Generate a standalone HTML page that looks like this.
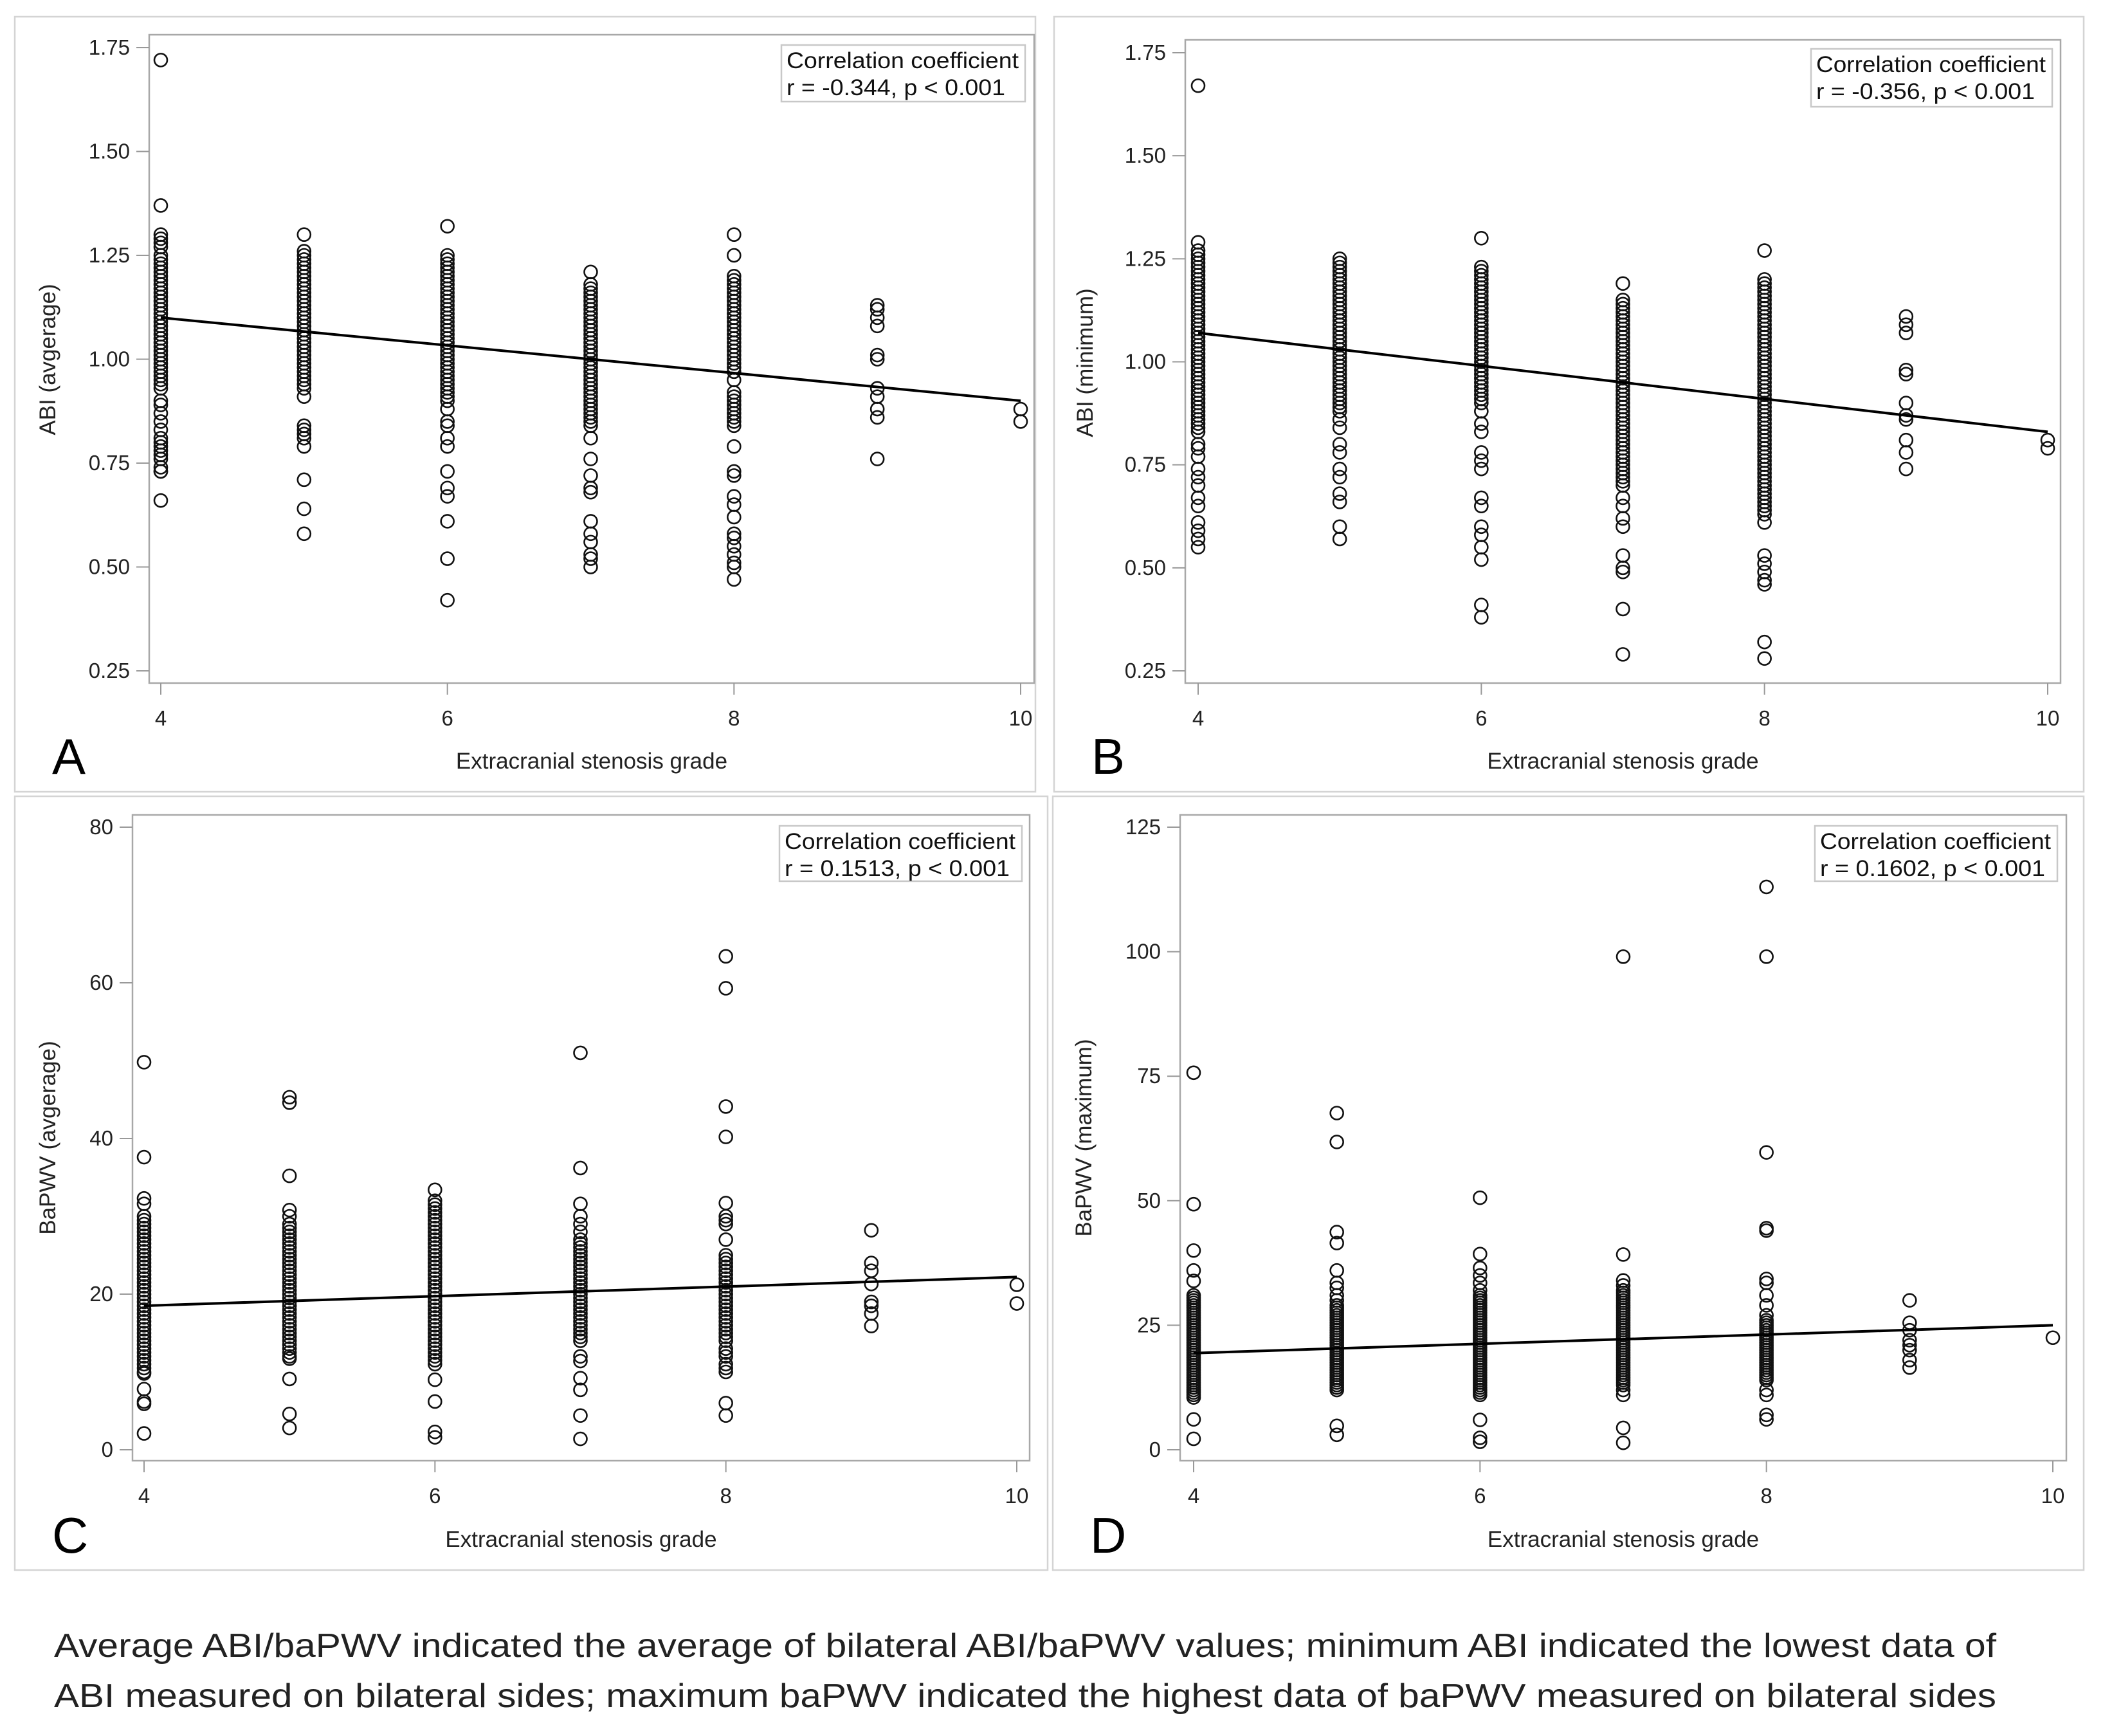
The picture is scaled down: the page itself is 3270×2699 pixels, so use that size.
<!DOCTYPE html>
<html><head><meta charset="utf-8">
<style>
html,body{margin:0;padding:0;background:#fff;}
svg{display:block;}
.tick{font-family:"Liberation Sans Narrow","Liberation Sans",sans-serif;font-size:33px;fill:#222;}
.ttl{font-family:"Liberation Sans",sans-serif;font-size:35px;fill:#222;}
.leg{font-family:"Liberation Sans",sans-serif;font-size:35px;fill:#111;}
.letter{font-family:"Liberation Sans",sans-serif;font-size:78px;fill:#000;}
.cap{font-family:"Liberation Sans",sans-serif;font-size:52px;fill:#222;}
</style></head>
<body>
<svg id="fig" width="3270" height="2699" viewBox="0 0 3270 2699" xmlns="http://www.w3.org/2000/svg">
<rect width="3270" height="2699" fill="#fff"/>
<text class="cap" x="84" y="2576" textLength="3020" lengthAdjust="spacingAndGlyphs">Average ABI/baPWV indicated the average of bilateral ABI/baPWV values; minimum ABI indicated the lowest data of</text>
<text class="cap" x="84" y="2654" textLength="3020" lengthAdjust="spacingAndGlyphs">ABI measured on bilateral sides; maximum baPWV indicated the highest data of baPWV measured on bilateral sides</text>
</svg>
<script>
// x categories (stenosis grade)
const grades = [4,5,6,7,8,9,10];
const xTicks = [4,6,8,10];
// Panel A: ABI (average), values per grade
const abiAvg4 = [1.72,1.37,1.30,1.29,1.28,1.27,1.25,1.24,1.22,1.20,1.18,1.16,1.14,1.12,1.10,1.08,1.06,1.04,1.02,1.00,0.98,0.96,0.94,0.93,0.90,0.89,0.87,0.85,0.83,0.81,0.80,0.79,0.78,0.77,0.76,0.74,0.73,0.73,0.66];
const abiAvg4b = [1.23,1.21,1.19,1.17,1.15,1.13,1.11,1.09,1.07,1.05,1.03,1.01,0.99,0.97,0.95];
const abiAvg5 = [1.30,1.26,1.25,1.23,1.21,1.19,1.17,1.15,1.13,1.11,1.09,1.07,1.05,1.03,1.01,0.99,0.97,0.95,0.93,0.91,0.84,0.83,0.82,0.81,0.79,0.71,0.64,0.58];
const abiAvg5b = [1.24,1.22,1.20,1.18,1.16,1.14,1.12,1.10,1.08,1.06,1.04,1.02,1.00,0.98,0.96,0.94];
const abiAvg6 = [1.32,1.25,1.24,1.22,1.20,1.18,1.16,1.14,1.12,1.10,1.08,1.06,1.04,1.02,1.00,0.98,0.96,0.94,0.92,0.90,0.88,0.85,0.84,0.81,0.79,0.73,0.69,0.67,0.61,0.52,0.42];
const abiAvg6b = [1.23,1.21,1.19,1.17,1.15,1.13,1.11,1.09,1.07,1.05,1.03,1.01,0.99,0.97,0.95,0.93,0.91];
const abiAvg7 = [1.21,1.18,1.16,1.14,1.12,1.10,1.08,1.06,1.04,1.02,1.00,0.98,0.96,0.94,0.92,0.90,0.88,0.86,0.84,0.81,0.76,0.72,0.69,0.68,0.61,0.58,0.56,0.53,0.52,0.50];
const abiAvg7b = [1.17,1.15,1.13,1.11,1.09,1.07,1.05,1.03,1.01,0.99,0.97,0.95,0.93,0.91,0.89,0.87,0.85];
const abiAvg8 = [1.30,1.25,1.20,1.19,1.17,1.15,1.13,1.11,1.09,1.07,1.05,1.03,1.01,0.99,0.97,0.95,0.92,0.90,0.88,0.86,0.84,0.79,0.73,0.72,0.67,0.65,0.62,0.58,0.57,0.55,0.53,0.51,0.50,0.47];
const abiAvg8b = [1.18,1.16,1.14,1.12,1.10,1.08,1.06,1.04,1.02,1.00,0.98,0.91,0.89,0.87,0.85];
const abiAvg9 = [1.13,1.12,1.10,1.08,1.01,1.00,0.93,0.91,0.88,0.86,0.76];
const abiAvg10 = [0.88,0.85];
const abiAvgFit = [1.10,0.90];
const abiTicks = [0.25,0.50,0.75,1.00,1.25,1.50,1.75];
// Panel B: ABI (minimum)
const abiMin4 = [1.67,1.29,1.27,1.26,1.25,1.24,1.22,1.20,1.18,1.16,1.14,1.12,1.10,1.08,1.06,1.04,1.02,1.00,0.98,0.96,0.94,0.92,0.90,0.88,0.86,0.84,0.83,0.80,0.79,0.77,0.74,0.72,0.70,0.67,0.65,0.61,0.59,0.57,0.55];
const abiMin4b = [1.23,1.21,1.19,1.17,1.15,1.13,1.11,1.09,1.07,1.05,1.03,1.01,0.99,0.97,0.95,0.93,0.91,0.89,0.87,0.85];
const abiMin5 = [1.25,1.23,1.21,1.19,1.17,1.15,1.13,1.11,1.09,1.07,1.05,1.03,1.01,0.99,0.97,0.95,0.93,0.91,0.89,0.88,0.86,0.84,0.80,0.78,0.74,0.72,0.68,0.66,0.60,0.57];
const abiMin5b = [1.24,1.22,1.20,1.18,1.16,1.14,1.12,1.10,1.08,1.06,1.04,1.02,1.00,0.98,0.96,0.94,0.92,0.90];
const abiMin6 = [1.30,1.23,1.21,1.19,1.17,1.15,1.13,1.11,1.09,1.07,1.05,1.03,1.01,0.99,0.97,0.95,0.93,0.91,0.90,0.88,0.85,0.83,0.78,0.76,0.74,0.67,0.65,0.60,0.58,0.55,0.52,0.41,0.38];
const abiMin6b = [1.22,1.20,1.18,1.16,1.14,1.12,1.10,1.08,1.06,1.04,1.02,1.00,0.98,0.96,0.94,0.92];
const abiMin7 = [1.19,1.15,1.13,1.11,1.09,1.07,1.05,1.03,1.01,0.99,0.97,0.95,0.93,0.91,0.89,0.87,0.85,0.83,0.81,0.79,0.77,0.75,0.73,0.71,0.70,0.67,0.65,0.62,0.60,0.53,0.50,0.49,0.40,0.29];
const abiMin7b = [1.14,1.12,1.10,1.08,1.06,1.04,1.02,1.00,0.98,0.96,0.94,0.92,0.90,0.88,0.86,0.84,0.82,0.80,0.78,0.76,0.74,0.72];
const abiMin8 = [1.27,1.20,1.18,1.16,1.14,1.12,1.10,1.08,1.06,1.04,1.02,1.00,0.98,0.96,0.94,0.92,0.90,0.88,0.86,0.84,0.82,0.80,0.78,0.76,0.74,0.72,0.70,0.68,0.66,0.64,0.61,0.53,0.51,0.49,0.47,0.46,0.32,0.28];
const abiMin8b = [1.19,1.17,1.15,1.13,1.11,1.09,1.07,1.05,1.03,1.01,0.99,0.97,0.95,0.93,0.91,0.89,0.87,0.85,0.83,0.81,0.79,0.77,0.75,0.73,0.71,0.69,0.67,0.65,0.63];
const abiMin9 = [1.11,1.09,1.07,0.98,0.97,0.90,0.87,0.86,0.81,0.78,0.74];
const abiMin10 = [0.81,0.79];
const abiMinFit = [1.07,0.83];
// Panel C: baPWV (average)
const pwvAvg4 = [49.8,37.6,32.3,31.6,30,29,28,27,26,25,24,23,22,21,20,19,18,17,16,15,14,13,12,11,10,9.8,7.8,6.2,5.9,2.1];
const pwvAvg4b = [29.5,28.5,27.5,26.5,25.5,24.5,23.5,22.5,21.5,20.5,19.5,18.5,17.5,16.5,15.5,14.5,13.5,12.5,11.5,10.5];
const pwvAvg5 = [45.3,44.6,35.2,30.8,30,29,28,27,26,25,24,23,22,21,20,19,18,17,16,15,14,13,12,11.7,9.1,4.6,2.8];
const pwvAvg5b = [28.5,27.5,26.5,25.5,24.5,23.5,22.5,21.5,20.5,19.5,18.5,17.5,16.5,15.5,14.5,13.5,12.5];
const pwvAvg6 = [33.4,32,31,30,29,28,27,26,25,24,23,22,21,20,19,18,17,16,15,14,13,12,11,9.0,6.2,2.3,1.6];
const pwvAvg6b = [31.5,30.5,29.5,28.5,27.5,26.5,25.5,24.5,23.5,22.5,21.5,20.5,19.5,18.5,17.5,16.5,15.5,14.5,13.5,12.5,11.5];
const pwvAvg7 = [51,36.2,31.6,30,29,28,27,26,25,24,23,22,21,20,19,18,17,16,15,14,12,11.4,9.2,7.7,4.4,1.4];
const pwvAvg7b = [26.5,25.5,24.5,23.5,22.5,21.5,20.5,19.5,18.5,17.5,16.5,15.5,14.5];
const pwvAvg8 = [63.4,59.3,44.1,40.2,31.7,30,29.5,29,27,25,24,23,22,21,20,19,18,17,16,15,14,13,12,11,10,6,4.4];
const pwvAvg8b = [24.5,23.5,22.5,21.5,20.5,19.5,18.5,17.5,16.5,15.5,14.5,12.5,10.5];
const pwvAvg9 = [28.2,24,23,21.3,19,18.5,17.5,15.9];
const pwvAvg10 = [21.2,18.8];
const pwvAvgFit = [18.5,22.2];
const pwvAvgTicks = [0,20,40,60,80];
// Panel D: baPWV (maximum)
const pwvMax4 = [75.7,49.3,40,36,33.9,31,30,29,28,27,26,25,24,23,22,21,20,19,18,17,16,15,14,13,12,11,10.5,6.1,2.2];
const pwvMax4b = [30.5,29.5,28.5,27.5,26.5,25.5,24.5,23.5,22.5,21.5,20.5,19.5,18.5,17.5,16.5,15.5,14.5,13.5,12.5,11.5];
const pwvMax5 = [67.6,61.8,43.7,41.5,36,33.5,32.5,31,30,29,28,27,26,25,24,23,22,21,20,19,18,17,16,15,14,13,12,4.8,3.0];
const pwvMax5b = [28.5,27.5,26.5,25.5,24.5,23.5,22.5,21.5,20.5,19.5,18.5,17.5,16.5,15.5,14.5,13.5,12.5];
const pwvMax6 = [50.6,39.3,36.5,35,33.5,32,31,30,29,28,27,26,25,24,23,22,21,20,19,18,17,16,15,14,13,12,11,6,2.4,1.6];
const pwvMax6b = [30.5,29.5,28.5,27.5,26.5,25.5,24.5,23.5,22.5,21.5,20.5,19.5,18.5,17.5,16.5,15.5,14.5,13.5,12.5,11.5];
const pwvMax7 = [99,39.2,34,33,32,31,30,29,28,27,26,25,24,23,22,21,20,19,18,17,16,15,14,13,12,11,4.4,1.4];
const pwvMax7b = [31.5,30.5,29.5,28.5,27.5,26.5,25.5,24.5,23.5,22.5,21.5,20.5,19.5,18.5,17.5,16.5,15.5,14.5,13.5];
const pwvMax8 = [113,99,59.7,44.5,44,34.3,33.5,31,29,27,26,25,24,23,22,21,20,19,18,17,16,15,14,12,11,7,6.1];
const pwvMax8b = [25.5,24.5,23.5,22.5,21.5,20.5,19.5,18.5,17.5,16.5,15.5,14.5];
const pwvMax9 = [30,25.5,24,22,21,20,18,16.5];
const pwvMax10 = [22.5];
const pwvMaxFit = [19.4,25.0];
const pwvMaxTicks = [0,25,50,75,100,125];

const NS = "http://www.w3.org/2000/svg";
const svg = document.getElementById('fig');
function mk(tag, attrs, parent){
  const e = document.createElementNS(NS, tag);
  for (const k in attrs) e.setAttribute(k, attrs[k]);
  (parent||svg).appendChild(e);
  return e;
}
function panel(cfg){
  const g = mk('g', {});
  
  
  const fr = mk('rect', {x:cfg.fx0, y:cfg.fy0, width:cfg.fx1-cfg.fx0, height:cfg.fy1-cfg.fy0, fill:'none', stroke:'#d4d4d4', 'stroke-width':2.5}, g);
  
  
  const xs = v => cfg.x4 + (v - 4) * (cfg.x10 - cfg.x4) / 6;
  const ys = v => cfg.yb + (v - cfg.vmin) * (cfg.yt - cfg.yb) / (cfg.vmax - cfg.vmin);
  const pa = mk('rect', {x:cfg.px0, y:cfg.py0, width:cfg.px1-cfg.px0, height:cfg.py1-cfg.py0, fill:'none', stroke:'#a8a8a8', 'stroke-width':2.5}, g);
  
  
  cfg.yticks.forEach(v => {
    const y = ys(v);
    const t = mk('line', {x1:cfg.px0-20, x2:cfg.px0, y1:y, y2:y, stroke:'#999', 'stroke-width':2}, g);
    
    
    const l = mk('text', {x:cfg.px0-30, y:y+11, 'text-anchor':'end', class:'tick'}, g);
    
    
    l.textContent = cfg.fmt(v);
  });
  xTicks.forEach(v => {
    const x = xs(v);
    const t = mk('line', {x1:x, x2:x, y1:cfg.py1, y2:cfg.py1+18, stroke:'#999', 'stroke-width':2}, g);
    
    
    const l = mk('text', {x:x, y:cfg.xly, 'text-anchor':'middle', class:'tick'}, g);
    
    
    l.textContent = v;
  });
  const xt = mk('text', {x:(cfg.px0+cfg.px1)/2, y:cfg.xty, 'text-anchor':'middle', class:'ttl'}, g);
  
  
  xt.textContent = 'Extracranial stenosis grade';
  const yt = mk('text', {x:0, y:0, 'text-anchor':'middle', class:'ttl', transform:'translate(' + cfg.ytx + ',' + cfg.yty + ') rotate(-90)'}, g);
  
  
  yt.textContent = cfg.ylabel;
  const lt = mk('text', {x:cfg.fx0+58, y:cfg.lety, class:'letter'}, g);
  
  
  lt.textContent = cfg.id;
  cfg.series.forEach((arr, i) => {
    arr.forEach(v => {
      const c = mk('circle', {cx:xs(grades[i]), cy:ys(v), r:10, fill:'none', stroke:'#111', 'stroke-width':2.6}, g);
      
      
    });
  });
  const fl = mk('line', {x1:xs(4), y1:ys(cfg.fit[0]), x2:xs(10), y2:ys(cfg.fit[1]), stroke:'#000', 'stroke-width':4}, g);
  
  
  const lg = mk('rect', {x:cfg.lx0, y:cfg.ly0, width:cfg.lx1-cfg.lx0, height:cfg.ly1-cfg.ly0, fill:'#fff', stroke:'#c8c8c8', 'stroke-width':2.5}, g);
  
  
  const l1 = mk('text', {x:cfg.lx0+8, y:cfg.ly0+36, class:'leg', textLength:cfg.lx1-cfg.lx0-18, lengthAdjust:'spacingAndGlyphs'}, g);
  
  
  l1.textContent = 'Correlation coefficient';
  const l2 = mk('text', {x:cfg.lx0+8, y:cfg.ly0+78, class:'leg', textLength:cfg.l2w, lengthAdjust:'spacingAndGlyphs'}, g);
  
  
  l2.textContent = cfg.stat;
}
const f2 = v => v.toFixed(2);
const f0 = v => String(v);
panel({id:'A', fx0:23, fy0:26, fx1:1610, fy1:1231, px0:232, py0:54, px1:1608, py1:1062,
  x4:250, x10:1587, yt:74, yb:1043, vmin:0.25, vmax:1.75, yticks:abiTicks, fmt:f2,
  xly:1128, xty:1195, ytx:86, yty:559, lety:1203, ylabel:'ABI (avgerage)',
  series:[abiAvg4.concat(abiAvg4b),abiAvg5.concat(abiAvg5b),abiAvg6.concat(abiAvg6b),abiAvg7.concat(abiAvg7b),abiAvg8.concat(abiAvg8b),abiAvg9,abiAvg10], fit:abiAvgFit,
  lx0:1215, ly0:70, lx1:1594, ly1:158, l2w:340, stat:'r = -0.344, p < 0.001'});
panel({id:'B', fx0:1639, fy0:26, fx1:3240, fy1:1231, px0:1843, py0:62, px1:3204, py1:1062,
  x4:1863, x10:3184, yt:82, yb:1043, vmin:0.25, vmax:1.75, yticks:abiTicks, fmt:f2,
  xly:1128, xty:1195, ytx:1699, yty:564, lety:1203, ylabel:'ABI (minimum)',
  series:[abiMin4.concat(abiMin4b),abiMin5.concat(abiMin5b),abiMin6.concat(abiMin6b),abiMin7.concat(abiMin7b),abiMin8.concat(abiMin8b),abiMin9,abiMin10], fit:abiMinFit,
  lx0:2816, ly0:76, lx1:3191, ly1:166, l2w:340, stat:'r = -0.356, p < 0.001'});
panel({id:'C', fx0:23, fy0:1238, fx1:1629, fy1:2441, px0:206, py0:1267, px1:1601, py1:2271,
  x4:224, x10:1581, yt:1286, yb:2254, vmin:0, vmax:80, yticks:pwvAvgTicks, fmt:f0,
  xly:2337, xty:2405, ytx:86, yty:1769, lety:2414, ylabel:'BaPWV (avgerage)',
  series:[pwvAvg4.concat(pwvAvg4b),pwvAvg5.concat(pwvAvg5b),pwvAvg6.concat(pwvAvg6b),pwvAvg7.concat(pwvAvg7b),pwvAvg8.concat(pwvAvg8b),pwvAvg9,pwvAvg10], fit:pwvAvgFit,
  lx0:1212, ly0:1284, lx1:1589, ly1:1370, l2w:350, stat:'r = 0.1513, p < 0.001'});
panel({id:'D', fx0:1637, fy0:1238, fx1:3240, fy1:2441, px0:1835, py0:1267, px1:3213, py1:2271,
  x4:1856, x10:3192, yt:1286, yb:2254, vmin:0, vmax:125, yticks:pwvMaxTicks, fmt:f0,
  xly:2337, xty:2405, ytx:1697, yty:1769, lety:2414, ylabel:'BaPWV (maximum)',
  series:[pwvMax4.concat(pwvMax4b),pwvMax5.concat(pwvMax5b),pwvMax6.concat(pwvMax6b),pwvMax7.concat(pwvMax7b),pwvMax8.concat(pwvMax8b),pwvMax9,pwvMax10], fit:pwvMaxFit,
  lx0:2822, ly0:1284, lx1:3199, ly1:1370, l2w:350, stat:'r = 0.1602, p < 0.001'});
</script>
</body></html>
